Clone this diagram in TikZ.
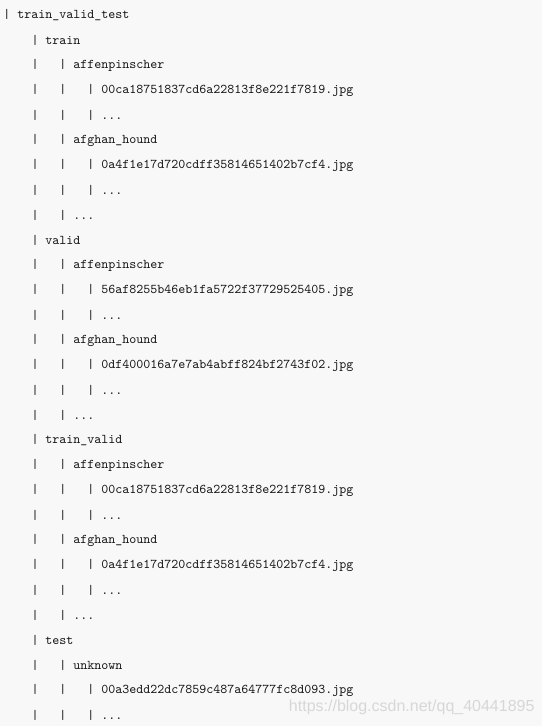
\documentclass[tikz,border=0pt]{standalone}
\usepackage{fontspec}
\setsansfont{Liberation Sans}
\definecolor{pagebg}{RGB}{248,248,248}
\definecolor{treetext}{RGB}{20,20,20}
\definecolor{markgray}{RGB}{215,215,215}
% one column of the tree: a bar and three blanks
\newcommand{\pipecol}{|\ \ \ }
\tikzset{every picture/.style={line width=0.75pt}}
\tikzset{treeline/.style={anchor=west,inner sep=0pt,text=treetext,font=\ttfamily\fontsize{10}{12}\selectfont}}

\begin{document}
\begin{tikzpicture}[x=0.75pt,y=0.75pt,yscale=-1,xscale=1]
%set diagram left start at 0, and has height of 726
\fill [pagebg] (0,0) rectangle (542,726);
\useasboundingbox (0,0) rectangle (542,726);

% Text Node: root
\node [treeline] (root) at (3,15) {|\ train\_valid\_test};
% Text Node: train
\node [treeline] (tr) at (31,40) {|\ train};
\node [treeline] (tra) at (31,65) {\pipecol|\ affenpinscher};
\node [treeline] (traf) at (31,90) {\pipecol\pipecol|\ 00ca18751837cd6a22813f8e221f7819.jpg};
\node [treeline] (trad) at (31,115) {\pipecol\pipecol|\ ...};
\node [treeline] (trh) at (31,140) {\pipecol|\ afghan\_hound};
\node [treeline] (trhf) at (31,165) {\pipecol\pipecol|\ 0a4f1e17d720cdff35814651402b7cf4.jpg};
\node [treeline] (trhd) at (31,190) {\pipecol\pipecol|\ ...};
\node [treeline] (trd) at (31,215) {\pipecol|\ ...};
% Text Node: valid
\node [treeline] (va) at (31,240) {|\ valid};
\node [treeline] (vaa) at (31,265) {\pipecol|\ affenpinscher};
\node [treeline] (vaaf) at (31,290) {\pipecol\pipecol|\ 56af8255b46eb1fa5722f37729525405.jpg};
\node [treeline] (vaad) at (31,315) {\pipecol\pipecol|\ ...};
\node [treeline] (vah) at (31,340) {\pipecol|\ afghan\_hound};
\node [treeline] (vahf) at (31,365) {\pipecol\pipecol|\ 0df400016a7e7ab4abff824bf2743f02.jpg};
\node [treeline] (vahd) at (31,390) {\pipecol\pipecol|\ ...};
\node [treeline] (vad) at (31,415) {\pipecol|\ ...};
% Text Node: train_valid
\node [treeline] (tv) at (31,440) {|\ train\_valid};
\node [treeline] (tva) at (31,465) {\pipecol|\ affenpinscher};
\node [treeline] (tvaf) at (31,490) {\pipecol\pipecol|\ 00ca18751837cd6a22813f8e221f7819.jpg};
\node [treeline] (tvad) at (31,515) {\pipecol\pipecol|\ ...};
\node [treeline] (tvh) at (31,540) {\pipecol|\ afghan\_hound};
\node [treeline] (tvhf) at (31,565) {\pipecol\pipecol|\ 0a4f1e17d720cdff35814651402b7cf4.jpg};
\node [treeline] (tvhd) at (31,590) {\pipecol\pipecol|\ ...};
\node [treeline] (tvd) at (31,615) {\pipecol|\ ...};
% Text Node: test
\node [treeline] (te) at (31,640) {|\ test};
\node [treeline] (teu) at (31,665) {\pipecol|\ unknown};
\node [treeline] (teuf) at (31,690) {\pipecol\pipecol|\ 00a3edd22dc7859c487a64777fc8d093.jpg};
\node [treeline] (teud) at (31,715) {\pipecol\pipecol|\ ...};

% Text Node: watermark
\node [anchor=east,inner sep=0pt,text=markgray,font=\sffamily\fontsize{12}{14}\selectfont] (mark) at (535,707) {https://blog.csdn.net/qq\_40441895};

\end{tikzpicture}
\end{document}
